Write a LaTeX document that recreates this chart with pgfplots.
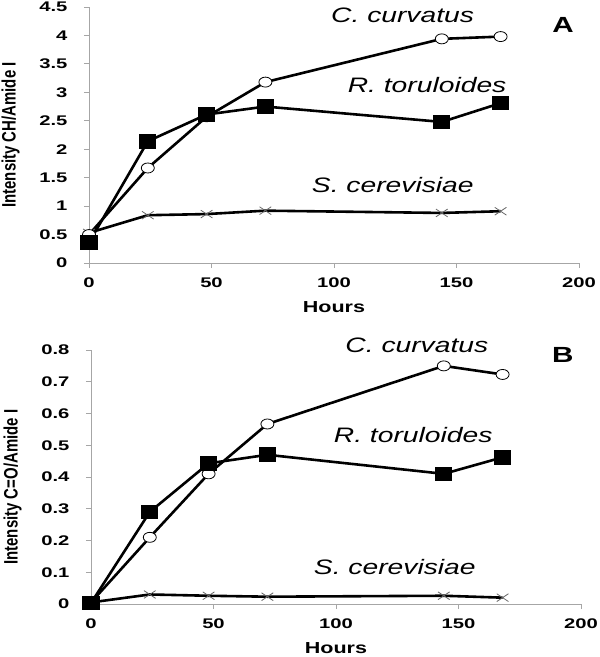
\documentclass[border=0pt]{standalone}
\usepackage{fontspec}
\setmainfont{Liberation Sans}
\usepackage{graphicx}
\usepackage{pgfplots}
\pgfplotsset{compat=1.18}

% the original image is stretched sideways, so stretch the text too
\newcommand{\sx}[1]{\scalebox{1.35}[1]{#1}}
\newcommand{\tx}[1]{\scalebox{1.45}[1]{#1}}

\tikzset{
    species/.style={font=\fontsize{21}{24}\selectfont\itshape},
    letter/.style={font=\fontsize{22}{24}\selectfont\bfseries},
}

\pgfplotsset{
    panel/.style={
        scale only axis,
        width=490bp,
        xmin=0, xmax=200,
        xtick={0,50,100,150,200},
        ymin=0,
        axis x line*=bottom,
        axis y line*=left,
        axis line style={gray!70, line width=0.8bp},
        tick style={gray!70, line width=0.8bp},
        tick align=outside,
        major tick length=5bp,
        clip=false,
        tick label style={font=\fontsize{14}{16}\selectfont\bfseries},
        xticklabel style={yshift=-6bp},
        yticklabel style={xshift=-13bp},
        /pgf/number format/assume math mode=true,
        xticklabel={\tx{\pgfmathprintnumber{\tick}}},
        yticklabel={\tx{\pgfmathprintnumber{\tick}}},
        xlabel={\sx{Hours}},
        xlabel style={at={(axis description cs:0.5,0)}, anchor=center, yshift=-44bp,
            font=\fontsize{16}{18}\selectfont\bfseries},
        ylabel style={at={(axis description cs:-0.16,0.5)}, anchor=center, rotate=0,
            font=\fontsize{15}{17}\selectfont\bfseries},
    },
    cer/.style={line width=2.6bp, black, mark=x, mark size=5.5bp,
        mark options={gray!80!black, line width=0.8bp, xscale=1.5}},
    cur/.style={line width=2.6bp, black, mark=*, mark size=5bp,
        mark options={fill=white, draw=black, line width=0.8bp, xscale=1.3}},
    tor/.style={line width=2.6bp, black, mark=square*, mark size=6bp,
        mark options={fill=black, xscale=1.2}},
}

\begin{document}
\begin{tikzpicture}
    \useasboundingbox (0,0) rectangle (600bp,-657bp);

    % panel A
    \begin{axis}[panel,
            at={(89bp,-263bp)}, anchor=south west,
            height=256bp,
            ymax=4.5,
            ytick={0,0.5,1,1.5,2,2.5,3,3.5,4,4.5},
            ylabel={\scalebox{1}[1.3]{Intensity CH/Amide I}},
        ]
        \addplot [cer] coordinates {
            (0,0.53) (24,0.84) (48,0.86) (72,0.92) (144,0.88) (168,0.91)
        };
        \addplot [cur] coordinates {
            (0,0.50) (24,1.67) (48,2.57) (72,3.18) (144,3.94) (168,3.98)
        };
        \addplot [tor] coordinates {
            (0,0.36) (24,2.14) (48,2.61) (72,2.75) (144,2.48) (168,2.81)
        };
        \node[species] at (axis cs:128,4.36) {\sx{C. curvatus}};
        \node[species] at (axis cs:138,3.13) {\sx{R. toruloides}};
        \node[species] at (axis cs:124,1.37) {\sx{S. cerevisiae}};
        \node[letter] at (axis cs:193.5,4.18) {\sx{A}};
    \end{axis}

    % panel B
    \begin{axis}[panel,
            at={(91bp,-604bp)}, anchor=south west,
            height=254bp,
            ymax=0.8,
            ytick={0,0.1,0.2,0.3,0.4,0.5,0.6,0.7,0.8},
            ylabel={\scalebox{1}[1.3]{Intensity C=O/Amide I}},
            ylabel style={at={(axis description cs:-0.16,0.46)}},
        ]
        \addplot [cer] coordinates {
            (0,0.005) (24,0.03) (48,0.026) (72,0.023) (144,0.026) (168,0.02)
        };
        \addplot [cur] coordinates {
            (0,0.005) (24,0.21) (48,0.41) (72,0.567) (144,0.75) (168,0.723)
        };
        \addplot [tor] coordinates {
            (0,0.003) (24,0.29) (48,0.443) (72,0.47) (144,0.41) (168,0.462)
        };
        \node[species] at (axis cs:133,0.816) {\sx{C. curvatus}};
        \node[species] at (axis cs:131.5,0.532) {\sx{R. toruloides}};
        \node[species] at (axis cs:124,0.117) {\sx{S. cerevisiae}};
        \node[letter] at (axis cs:192.6,0.784) {\sx{B}};
    \end{axis}
\end{tikzpicture}
\end{document}
